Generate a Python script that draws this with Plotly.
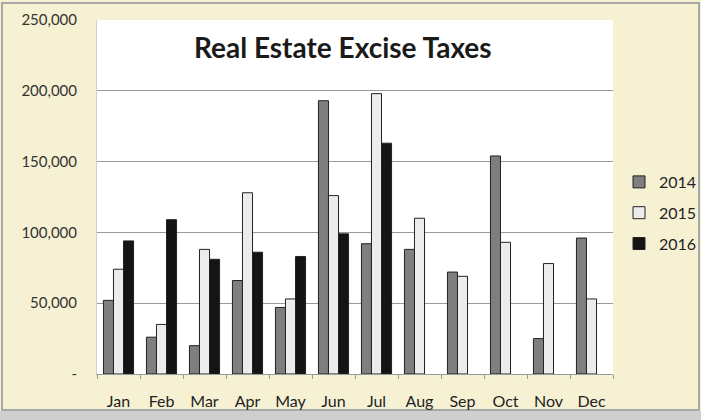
import plotly.graph_objects as go

months = ["Jan", "Feb", "Mar", "Apr", "May", "Jun", "Jul", "Aug", "Sep", "Oct", "Nov", "Dec"]
v2014 = [52000, 26000, 20000, 66000, 47000, 193000, 92000, 88000, 72000, 154000, 25000, 96000]
v2015 = [74000, 35000, 88000, 128000, 53000, 126000, 198000, 110000, 69000, 93000, 78000, 53000]
v2016 = [94000, 109000, 81000, 86000, 83000, 99000, 163000, None, None, None, None, None]
series_names = ["2014", "2015", "2016"]
tick_vals = [0, 50000, 100000, 150000, 200000, 250000]
tick_text = ["-", "50,000", "100,000", "150,000", "200,000", "250,000"]

colors = ["#7f7f7f", "#ececec", "#141414"]
W, H = 701, 420
L, R, T, B = 97, 88, 20, 46

fig = go.Figure()
for i, (name, vals) in enumerate(zip(series_names, [v2014, v2015, v2016])):
    fig.add_trace(go.Bar(
        x=months, y=vals, name=name, legendgroup=name,
        marker=dict(color=colors[i], line=dict(color="#222222", width=1)),
    ))

fig.update_layout(
    width=W, height=H,
    margin=dict(l=L, r=R, t=T, b=B, autoexpand=False),
    paper_bgcolor="#f7f1d4",
    plot_bgcolor="#ffffff",
    barmode="group", bargap=0.3, bargroupgap=0,
    font=dict(family="Lato", size=14, color="#333333"),
    title=dict(text="<b>Real Estate Excise Taxes</b>", x=0.489, xanchor="center",
               y=1 - 48 / H, yanchor="middle",
               font=dict(family="Lato", size=28, color="#1a1a1a")),
    legend=dict(x=(619 - L) / (W - L - R), xanchor="left",
                y=(374 - 165) / (374 - 20), yanchor="top",
                traceorder="grouped", tracegroupgap=7,
                itemwidth=30,
                bgcolor="rgba(0,0,0,0)",
                font=dict(family="Lato", size=16, color="#222222")),
    showlegend=True,
)
fig.update_xaxes(
    showgrid=False, showline=True, linecolor="#9a9a9a", linewidth=1,
    ticks="outside", tickson="boundaries", ticklen=4, tickcolor="#9a9a9a",
    ticklabelstandoff=13, tickfont=dict(size=16, color="#222222"),
)
fig.update_yaxes(
    range=[0, 250000], tickvals=tick_vals, ticktext=tick_text,
    showgrid=True, gridcolor="#9a9a9a", gridwidth=1.3,
    showline=True, linecolor="#d0d0d0", linewidth=1,
    zeroline=False, ticks="", ticklabelstandoff=16,
    tickfont=dict(size=15, color="#333333"),
)
fig.add_shape(type="rect", xref="paper", yref="paper",
              x0=-(L - 2) / (W - L - R), x1=1 + (R - 2) / (W - L - R),
              y0=-(B - 10) / (H - T - B), y1=1 + (T - 3) / (H - T - B),
              line=dict(color="#a8a8a8", width=2), layer="below")
fig.add_shape(type="rect", xref="paper", yref="paper",
              x0=-L / (W - L - R), x1=1 + R / (W - L - R),
              y0=-B / (H - T - B), y1=-(B - 9) / (H - T - B),
              line=dict(width=0), fillcolor="#cfcfcf", layer="below")

fig.write_html("out.html", config={"displayModeBar": False},
               post_script="document.body.style.margin='0';")
